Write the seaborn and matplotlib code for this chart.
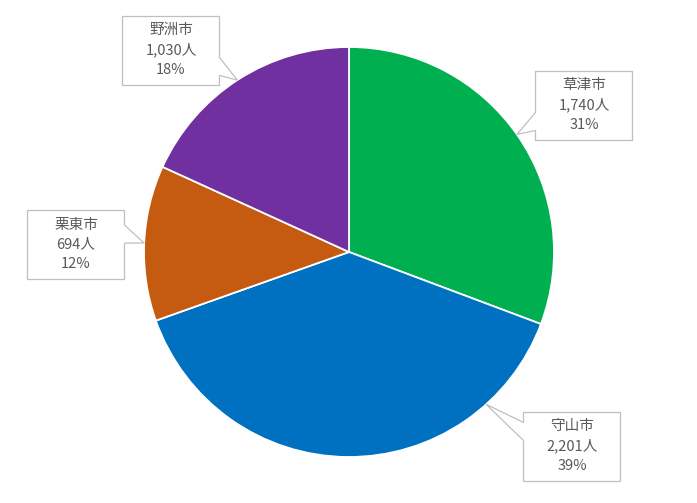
import numpy as np
import matplotlib
matplotlib.use("Agg")
import matplotlib.pyplot as plt
from matplotlib.patches import Polygon
import seaborn as sns

# data
cities = ["草津市", "守山市", "栗東市", "野洲市"]
people = [1740, 2201, 694, 1030]
colors = ["#00B050", "#0070C0", "#C55A11", "#7030A0"]

# callout layout (pixel coords, y down): box centre, tip angle (deg clockwise from top), pointer side
box_centers = [(584, 106), (572, 447), (76, 245), (171, 51)]
tip_angles = [55, 138, 272.5, 327]
sides = ["left", "left", "right", "right"]

W, H = 697, 503
CX, CY, R = 349, 252, 205
BW, BH = 97, 69

sns.set_theme(style="white")
plt.rcParams["font.family"] = ["Noto Sans CJK JP", "DejaVu Sans"]

fig = plt.figure(figsize=(W / 100, H / 100), dpi=100)
ax = fig.add_axes([0, 0, 1, 1])

ax.pie(people, colors=colors, startangle=90, counterclock=False,
       center=(CX, H - CY), radius=R, frame=True,
       wedgeprops=dict(edgecolor="white", linewidth=1.3))
ax.set_xlim(0, W)
ax.set_ylim(0, H)
ax.set_aspect("equal")
ax.axis("off")

total = sum(people)
for name, val, (bx, by), ang, side in zip(cities, people, box_centers, tip_angles, sides):
    a = np.deg2rad(ang)
    tx, ty = CX + R * np.sin(a), CY - R * np.cos(a)
    x0, x1 = bx - BW / 2, bx + BW / 2
    top, bot = by - BH / 2, by + BH / 2
    b_end = min(max(ty, top + 28), bot - 10)
    b_start = b_end - 18
    if side == "left":
        pts = [(x0, top), (x1, top), (x1, bot), (x0, bot),
               (x0, b_end), (tx, ty), (x0, b_start)]
    else:
        pts = [(x0, top), (x1, top), (x1, b_start), (tx, ty),
               (x1, b_end), (x1, bot), (x0, bot)]
    pts = [(px, H - py) for px, py in pts]
    ax.add_patch(Polygon(pts, closed=True, facecolor="white",
                         edgecolor="#BFBFBF", linewidth=0.9, zorder=5))
    pct = round(val / total * 100)
    ax.text(bx, H - by + 1, f"{name}\n{val:,}人\n{pct}%", ha="center", va="center",
            fontsize=10.5, color="#595959", linespacing=1.5, zorder=6)

fig.savefig("out.png", dpi=100)
